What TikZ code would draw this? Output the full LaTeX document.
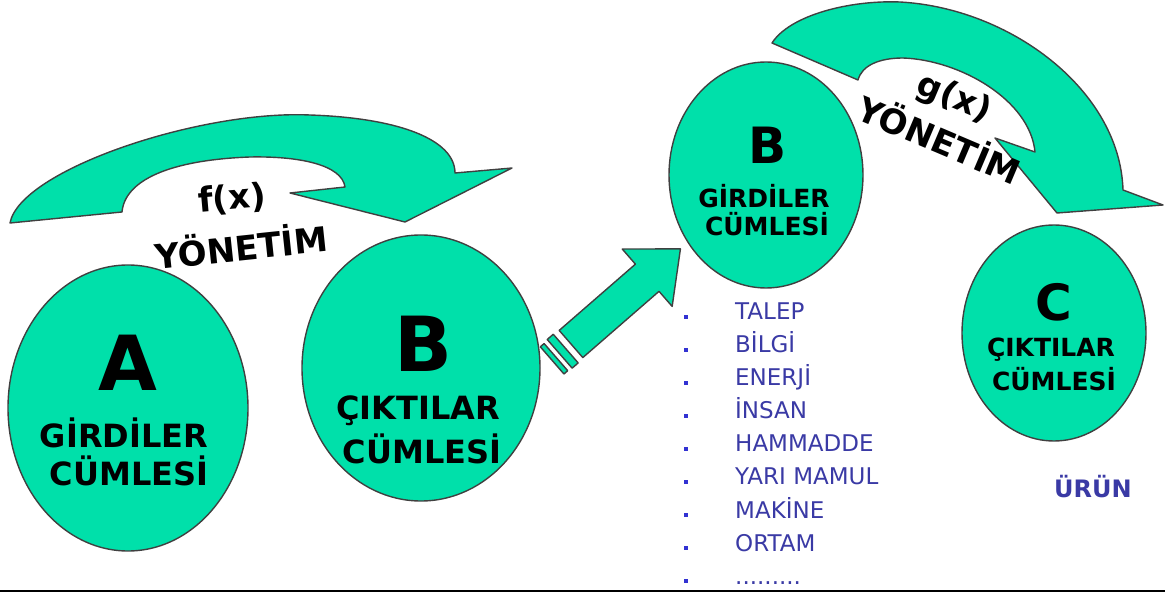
\documentclass[tikz,border=0pt]{standalone}
\usepackage{fontspec}
\setmainfont{DejaVu Sans}
\usetikzlibrary{shapes.geometric}
\definecolor{mint}{RGB}{0,224,170}
\definecolor{listblue}{RGB}{58,58,165}
\definecolor{bulletblue}{RGB}{50,50,210}
\begin{document}
\begin{tikzpicture}[x=1pt, y=-1pt,
    blob/.style={ellipse,draw=black!75,line width=1.4pt,fill=mint,inner sep=0pt},
    band/.style={draw=black!75,line width=1.4pt,fill=mint,line join=round},
    bigletter/.style={font=\bfseries\fontsize{76}{80}\selectfont,inner sep=0pt},
    midletter/.style={font=\bfseries\fontsize{50}{54}\selectfont,inner sep=0pt},
    caption/.style={font=\bfseries\fontsize{32}{36}\selectfont,inner sep=0pt},
    smallcaption/.style={font=\bfseries\fontsize{25}{28}\selectfont,inner sep=0pt},
    rule/.style={font=\bfseries\fontsize{34}{38}\selectfont,inner sep=0pt},
    item/.style={anchor=base west,text=listblue,font=\fontsize{23}{26}\selectfont,inner sep=0pt},
    bullet/.style={rectangle,fill=bulletblue,minimum size=4pt,inner sep=0pt}
    ]
    \useasboundingbox (0,0) rectangle (1165,593);

    % sets
    \node (a) at (128, 408) [blob, minimum width=240pt, minimum height=286pt] {};
    \node (b1) at (421, 368) [blob, minimum width=238pt, minimum height=266pt] {};
    \node (b2) at (766, 175) [blob, minimum width=194pt, minimum height=226pt] {};
    \node (c) at (1054, 333) [blob, minimum width=184pt, minimum height=216pt] {};

    \node (aname) at (128, 363) [bigletter] {A};
    \node (ain1) at (124, 433) [caption] {GİRDİLER};
    \node (ain2) at (129, 471) [caption] {CÜMLESİ};

    \node (bname) at (423, 344) [bigletter] {B};
    \node (bout1) at (418, 411) [caption] {ÇIKTILAR};
    \node (bout2) at (422, 449) [caption] {CÜMLESİ};

    \node (b2name) at (768, 145) [midletter] {B};
    \node (b2in1) at (764, 196) [smallcaption] {GİRDİLER};
    \node (b2in2) at (767, 224) [smallcaption] {CÜMLESİ};

    \node (cname) at (1054, 302) [midletter] {C};
    \node (cout1) at (1051, 350) [smallcaption] {ÇIKTILAR};
    \node (cout2) at (1054, 379) [smallcaption] {CÜMLESİ};

    % f(x) arrow
    \draw [band] (10,223) .. controls (20,170) and (200,110) .. (310,115)
      .. controls (400,118) and (455,140) .. (455,173) -- (512,168) -- (405,222)
      -- (290,193) -- (345,187) .. controls (342,165) and (300,156) .. (250,157)
      .. controls (170,160) and (125,180) .. (122,212) -- cycle;
    \node (f) at (232, 199) [rule, rotate=5] {f(x)};
    \node (fman) at (241, 245) [rule, rotate=6] {YÖNETİM};

    % g(x) arrow
    \draw [band] (772,43) .. controls (790,15) and (850,0) .. (900,2)
      .. controls (1010,8) and (1120,90) .. (1123,190) -- (1163,205) -- (1057,213)
      -- (995,138) -- (1035,152) .. controls (1030,100) and (960,60) .. (903,58)
      .. controls (880,58) and (862,65) .. (858,80) -- cycle;
    \node (g) at (954, 99) [rule, rotate=-23] {g(x)};
    \node (gman) at (940, 138) [rule, rotate=-23] {YÖNETİM};

    % B to B
    \begin{scope}[shift={(571,344)}, rotate=41]
      \draw [band] (0,-18) -- (101,-18) -- (101,-38) -- (145,0) -- (101,38) -- (101,18) -- (0,18) -- cycle;
      \draw [band] (-15,-19) rectangle (-7,19);
      \draw [band] (-25,-18) rectangle (-20,18);
    \end{scope}

    % inputs
    \foreach \word [count=\i] in {TALEP, BİLGİ, ENERJİ, İNSAN, HAMMADDE, YARI MAMUL, MAKİNE, ORTAM} {
      \node (item\i) at (735, 287+33*\i) [item] {\word};
      \node (dot\i) at (686, 284+33*\i) [bullet] {};
    }
    \node (item9) at (735, 584) [item] {.........};
    \node (dot9) at (686, 581) [bullet] {};
    \node (urun) at (1093, 487) [font=\bfseries\fontsize{24}{28}\selectfont, text=listblue, inner sep=0pt] {ÜRÜN};

    \draw [line width=1.5pt] (0,591) -- (1165,591);
  \end{tikzpicture}
\end{document}
